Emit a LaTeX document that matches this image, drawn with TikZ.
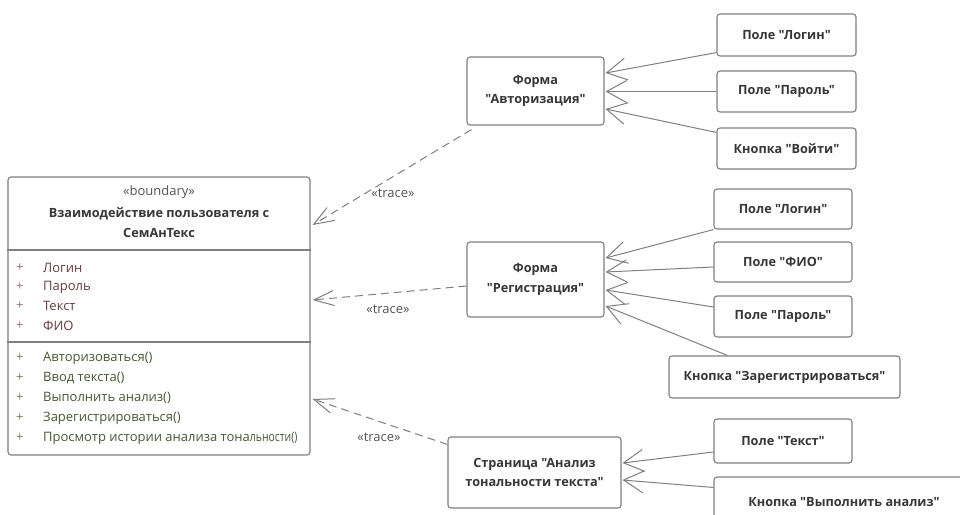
\documentclass[tikz,border=0pt]{standalone}
\usepackage{fontspec}
% straight double quotes are kept as typed
\setmainfont{Open Sans}[Ligatures=TeXOff]
\usetikzlibrary{arrows.meta,calc}

\definecolor{edgegray}{RGB}{128,128,128}
\definecolor{labeltext}{RGB}{55,55,55}
\definecolor{stereo}{RGB}{85,85,85}
\definecolor{attrtext}{RGB}{105,60,60}
\definecolor{attrplus}{RGB}{150,115,115}
\definecolor{optext}{RGB}{70,90,50}
\definecolor{opplus}{RGB}{120,130,100}

\tikzset{
  box/.style={draw=edgegray, line width=1.1pt, rounded corners=3pt, fill=white,
    inner sep=0pt, align=center, text=labeltext,
    font=\bfseries\fontsize{12.7}{19.5}\selectfont},
  member/.style={anchor=west, inner sep=0pt, font=\fontsize{13}{15}\selectfont},
  partlink/.style={draw=edgegray, line width=1pt,
    -{Straight Barb[length=20pt,width=22pt]}},
  tracelink/.style={draw=edgegray, line width=1pt, dash pattern=on 8pt off 5pt,
    -{Straight Barb[length=20pt,width=15pt]}},
  tracelbl/.style={inner sep=0pt, text=stereo, font=\fontsize{13}{15}\selectfont}
}

\begin{document}
\begin{tikzpicture}[x=1pt,y=-1pt]
\useasboundingbox (0,0) rectangle (960,514);
\fill[white] (0,0) rectangle (960,514);

% boundary class
\node[draw=edgegray, line width=1.1pt, rounded corners=3pt, inner sep=0pt,
      minimum width=302pt, minimum height=278pt] (cls) at (159,316) {};
\coordinate (sepA) at (0,250);
\coordinate (sepB) at (0,342);
\draw[edgegray, line width=1.1pt] (cls.west |- sepA) -- (cls.east |- sepA);
\draw[edgegray, line width=1.1pt] (cls.west |- sepB) -- (cls.east |- sepB);
\node[inner sep=0pt, text=stereo, font=\fontsize{13}{15}\selectfont] (clsst) at (159,192) {«boundary»};
\node[inner sep=0pt, align=center, text=labeltext, font=\bfseries\fontsize{12.7}{20}\selectfont]
  (clsname) at (159,223) {Взаимодействие пользователя с\\СемАнТекс};

\foreach \y/\t [count=\i] in {268/Логин, 287/Пароль, 306/Текст, 326/ФИО}{
  \node[member, text=attrplus] (ap\i) at (16,\y) {+};
  \node[member, text=attrtext] (a\i) at (43,\y) {\t};
}
\foreach \y/\t [count=\i] in {358/Авторизоваться(), 378/Ввод текста(), 398/Выполнить анализ(),
    418/Зарегистрироваться()}{
  \node[member, text=opplus] (op\i) at (16,\y) {+};
  \node[member, text=optext] (o\i) at (43,\y) {\t};
}
\node[member, text=opplus] (op5) at (16,438) {+};
\node[member, text=optext] (o5) at (43,438) {Просмотр истории анализа тона\scalebox{0.8}[1]{льности()}};

% forms and page
\node[box, minimum width=137pt, minimum height=68pt] (authF) at (535.5,91) {Форма\\"Авторизация"};
\node[box, minimum width=137pt, minimum height=75pt] (regF) at (535.5,279.5) {Форма\\"Регистрация"};
\node[box, minimum width=173pt, minimum height=71pt] (pageF) at (534.5,472.5) {Страница "Анализ\\тональности текста"};

% elements
\node[box, minimum width=139pt, minimum height=42pt] (login1) at (786.5,35) {Поле "Логин"};
\node[box, minimum width=139pt, minimum height=41pt] (pass1) at (786.5,91.5) {Поле "Пароль"};
\node[box, minimum width=139pt, minimum height=41pt] (btn1) at (786.5,148.5) {Кнопка "Войти"};
\node[box, minimum width=138pt, minimum height=40pt] (login2) at (783,209) {Поле "Логин"};
\node[box, minimum width=138pt, minimum height=40pt] (fio) at (783,262) {Поле "ФИО"};
\node[box, minimum width=138pt, minimum height=41pt] (pass2) at (783,316.5) {Поле "Пароль"};
\node[box, minimum width=231pt, minimum height=42pt] (btnReg) at (784.5,377) {Кнопка "Зарегистрироваться"};
\node[box, minimum width=138pt, minimum height=44pt] (txt) at (783,441) {Поле "Текст"};
\node[box, minimum width=260pt, minimum height=50pt] (btnRun) at (844,502) {Кнопка "Выполнить анализ"};

% parts -> forms
\draw[partlink] ($(login1.south west)+(0,-4)$) -- ($(authF.east)+(1,-18)$);
\draw[partlink] (pass1.west) -- ($(authF.east)+(1,0.5)$);
\draw[partlink] ($(btn1.north west)+(0,5)$) -- ($(authF.east)+(1,18)$);

\draw[partlink] (login2.south west) -- ($(regF.east)+(1,-21.5)$);
\draw[partlink] ($(fio.west)+(0,5)$) -- ($(regF.east)+(1,-7.5)$);
\draw[partlink] ($(pass2.west)+(0,-9.5)$) -- ($(regF.east)+(1,10.5)$);
\draw[partlink] ($(btnReg.north west)+(59,0)$) -- ($(regF.east)+(1,26.5)$);

\draw[partlink] ($(txt.west)+(0,11)$) -- ($(pageF.east)+(1,-9.5)$);
\draw[partlink] ($(btnRun.north west)+(0,11)$) -- ($(pageF.east)+(1,7.5)$);

% trace dependencies
\draw[tracelink] ($(authF.south west)+(5,4)$) -- ($(cls.east)+(2,-91)$);
\draw[tracelink] ($(regF.west)+(0,6.5)$) -- ($(cls.east)+(2,-16)$);
\draw[tracelink] ($(pageF.north west)+(0,8)$) -- ($(cls.east)+(2,83)$);
\node[tracelbl] (tr1) at (393,193) {«trace»};
\node[tracelbl] (tr2) at (388,309) {«trace»};
\node[tracelbl] (tr3) at (379,437) {«trace»};
\end{tikzpicture}
\end{document}
